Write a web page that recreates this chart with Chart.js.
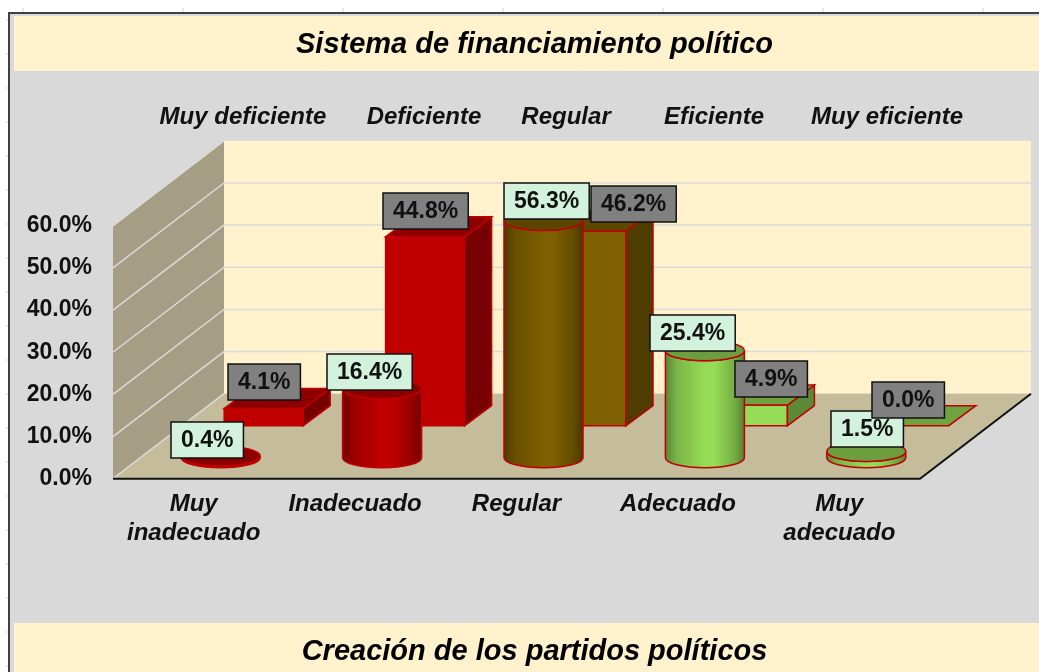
<!DOCTYPE html>
<html>
<head>
<meta charset="utf-8">
<style>html,body{margin:0;padding:0;background:#fff}canvas{display:block}</style>
<script src="https://cdn.jsdelivr.net/npm/chart.js@4/dist/chart.umd.min.js"></script>
</head>
<body>
<canvas id="c" width="1039" height="672"></canvas>
<script>
const titleText = 'Sistema de financiamiento político';
const subtitleText = 'Creación de los partidos políticos';
const frontLabels = [['Muy','inadecuado'],'Inadecuado','Regular','Adecuado',['Muy','adecuado']];
const backLabels = ['Muy deficiente','Deficiente','Regular','Eficiente','Muy eficiente'];
const frontValues = [0.4,16.4,56.3,25.4,1.5];
const backValues = [4.1,44.8,46.2,4.9,0.0];
const barColors = ['#C00000','#C00000','#7F6000','#96DC56','#96DC56'];

// Label placement relative to each bar top (styling only)
const frontNudge = [[-13,-16],[-12,-17],[3,-19],[-12,-18],[1,-22]];
const backNudge = [[1,-26],[1,-26],[47,-27],[23,-26],[-1,-26]];
const topLabelSlots = [0.805,1.927,2.807,3.724,4.796];

const DEPTH = {dx:111, dy:-85};
const FRONT = {dx:27, dy:-21, ry:10};
const BACK = {dx:70, dy:-53, sx:27, sy:-20};
const EDGE = '#C00000';
const FONT = 'Liberation Sans, Arial, sans-serif';

function shade(hex,f){
  const n=parseInt(hex.slice(1),16);
  const c=[n>>16&255,n>>8&255,n&255].map(v=>Math.round(v*f));
  return `rgb(${c[0]},${c[1]},${c[2]})`;
}
function poly(ctx,pts,fill,stroke){
  ctx.beginPath();
  pts.forEach((p,i)=>i?ctx.lineTo(p[0],p[1]):ctx.moveTo(p[0],p[1]));
  ctx.closePath();
  if(fill){ctx.fillStyle=fill;ctx.fill();}
  if(stroke){ctx.strokeStyle=stroke;ctx.lineWidth=1.5;ctx.stroke();}
}
function drawBox(ctx,el,color){
  const p=el.getProps(['x','y','base','width'],true);
  const l=p.x+BACK.dx-p.width/2, r=l+p.width, t=p.y+BACK.dy, b=p.base+BACK.dy;
  const sx=BACK.sx, sy=BACK.sy;
  if(b-t>0.5){
    poly(ctx,[[l,t],[r,t],[r,b],[l,b]],color,EDGE);
    poly(ctx,[[r,t],[r+sx,t+sy],[r+sx,b+sy],[r,b]],shade(color,.62),EDGE);
  }
  poly(ctx,[[l,t],[r,t],[r+sx,t+sy],[l+sx,t+sy]],shade(color,.74),EDGE);
}
function drawCylinder(ctx,el,color){
  const p=el.getProps(['x','y','base','width'],true);
  const cx=p.x+FRONT.dx, t=p.y+FRONT.dy, b=p.base+FRONT.dy, rx=p.width/2, ry=FRONT.ry;
  const g=ctx.createLinearGradient(cx-rx,0,cx+rx,0);
  g.addColorStop(0,shade(color,.6));
  g.addColorStop(.14,shade(color,.82));
  g.addColorStop(.5,shade(color,1));
  g.addColorStop(.62,shade(color,1));
  g.addColorStop(.88,shade(color,.78));
  g.addColorStop(1,shade(color,.58));
  ctx.beginPath();
  ctx.moveTo(cx-rx,t);
  ctx.lineTo(cx-rx,b);
  ctx.ellipse(cx,b,rx,ry,0,Math.PI,0,true);
  ctx.lineTo(cx+rx,t);
  ctx.ellipse(cx,t,rx,ry,0,0,Math.PI,false);
  ctx.closePath();
  ctx.fillStyle=g;ctx.fill();
  ctx.strokeStyle=EDGE;ctx.lineWidth=1.5;ctx.stroke();
  ctx.beginPath();
  ctx.ellipse(cx,t,rx,ry,0,0,Math.PI*2);
  ctx.fillStyle=shade(color,.72);ctx.fill();
  ctx.strokeStyle=EDGE;ctx.lineWidth=1.5;ctx.stroke();
}
function drawTag(ctx,cx,cy,text,bg){
  ctx.font='bold 23px '+FONT;
  const w=ctx.measureText(text).width+20, h=36;
  const x=Math.round(cx-w/2), y=Math.round(cy-h/2);
  ctx.fillStyle=bg;ctx.fillRect(x,y,w,h);
  ctx.strokeStyle='#111';ctx.lineWidth=1.5;ctx.strokeRect(x,y,w,h);
  ctx.fillStyle='#111';ctx.textAlign='center';ctx.textBaseline='middle';
  ctx.fillText(text,x+w/2,y+h/2+1);
}

const scene={
  id:'scene',
  beforeDraw(chart){
    const ctx=chart.ctx;
    ctx.save();
    ctx.fillStyle='#fff';ctx.fillRect(0,0,1039,672);
    ctx.strokeStyle='#d4d4d4';ctx.lineWidth=1;
    for(let x=23;x<1039;x+=160){ctx.beginPath();ctx.moveTo(x,8);ctx.lineTo(x,12);ctx.stroke();}
    for(let y=20;y<672;y+=34){ctx.beginPath();ctx.moveTo(6,y);ctx.lineTo(8,y);ctx.stroke();}
    ctx.fillStyle='#D9D9D9';ctx.fillRect(9,13,1030,659);
    ctx.fillStyle='#404040';ctx.fillRect(8,12,1031,2);ctx.fillRect(8,12,2,660);
    ctx.fillStyle='#FFF2CC';ctx.fillRect(14,16,1025,55);ctx.fillRect(14,623,1025,49);
    ctx.restore();
  },
  beforeDatasetsDraw(chart){
    const ctx=chart.ctx, a=chart.chartArea, y=chart.scales.y, d=DEPTH;
    ctx.save();
    const bw=a.bottom+d.dy, tw=a.top+d.dy;
    poly(ctx,[[a.left+d.dx,tw],[a.right+d.dx,tw],[a.right+d.dx,bw],[a.left+d.dx,bw]],'#FFF2CC');
    poly(ctx,[[a.left,a.top],[a.left+d.dx,tw],[a.left+d.dx,bw],[a.left,a.bottom]],'#A59D84');
    poly(ctx,[[a.left,a.bottom],[a.left+d.dx,bw],[a.right+d.dx,bw],[a.right,a.bottom]],'#C4BC9A');
    ctx.strokeStyle='#DADADA';ctx.lineWidth=1.5;
    y.ticks.forEach(t=>{
      const py=y.getPixelForValue(t.value);
      ctx.beginPath();
      ctx.moveTo(a.left,py);
      ctx.lineTo(a.left+d.dx,py+d.dy);
      if(t.value>0 && t.value<60){ctx.lineTo(a.right+d.dx,py+d.dy);}
      ctx.stroke();
    });
    ctx.strokeStyle='#111';ctx.lineWidth=2;
    ctx.beginPath();
    ctx.moveTo(a.left,a.bottom);ctx.lineTo(a.right,a.bottom);ctx.lineTo(a.right+d.dx,bw);
    ctx.stroke();
    ctx.restore();
  },
  beforeDatasetDraw(chart,args){
    const ctx=chart.ctx, ds=chart.data.datasets[args.index];
    ctx.save();
    args.meta.data.forEach((el,i)=>{
      const color=ds.backgroundColor[i];
      if(ds.shape==='cylinder') drawCylinder(ctx,el,color); else drawBox(ctx,el,color);
    });
    ctx.restore();
    return false;
  },
  afterDatasetsDraw(chart){
    const ctx=chart.ctx;
    ctx.save();
    chart.getDatasetMeta(0).data.forEach((el,i)=>{
      const p=el.getProps(['x','y'],true);
      drawTag(ctx,p.x+FRONT.dx+frontNudge[i][0],p.y+FRONT.dy+frontNudge[i][1],frontValues[i].toFixed(1)+'%','#D3F2DE');
    });
    chart.getDatasetMeta(1).data.forEach((el,i)=>{
      const p=el.getProps(['x','y'],true);
      drawTag(ctx,p.x+BACK.dx+backNudge[i][0],p.y+BACK.dy+backNudge[i][1],backValues[i].toFixed(1)+'%','#808080');
    });
    ctx.restore();
  }
};

const axisFont={family:FONT,size:24,weight:'bold',style:'italic',lineHeight:1.2};
new Chart(document.getElementById('c'),{
  type:'bar',
  plugins:[scene],
  data:{
    labels:frontLabels,
    datasets:[
      {label:'Creación de los partidos políticos',shape:'cylinder',data:frontValues,backgroundColor:barColors,borderColor:EDGE},
      {label:'Sistema de financiamiento político',shape:'box',data:backValues,backgroundColor:barColors,borderColor:EDGE}
    ]
  },
  options:{
    responsive:false,
    animation:false,
    grouped:false,
    categoryPercentage:1,
    barPercentage:0.4895,
    layout:{autoPadding:false,padding:{top:16,right:-10,bottom:0,left:20}},
    plugins:{
      legend:{display:false},
      tooltip:{enabled:false},
      title:{display:true,text:titleText,color:'#000',font:{family:FONT,size:29,weight:'bold',style:'italic',lineHeight:1.2},padding:{top:12,bottom:7}},
      subtitle:{display:true,position:'bottom',text:subtitleText,color:'#000',font:{family:FONT,size:29,weight:'bold',style:'italic',lineHeight:1.2},padding:{top:10,bottom:2.5}}
    },
    scales:{
      x:{
        position:'bottom',
        offset:true,
        grid:{display:false,drawTicks:false},
        border:{display:false},
        ticks:{color:'#111',font:axisFont,padding:11,maxRotation:0,autoSkip:false},
        afterFit(s){s.height=146;s.paddingLeft=0;s.paddingRight=0;}
      },
      xTop:{
        type:'linear',
        position:'top',
        offset:false,
        min:0,max:5,
        grid:{display:false,drawTicks:false},
        border:{display:false},
        afterBuildTicks(s){s.ticks=topLabelSlots.map(v=>({value:v}));},
        ticks:{color:'#111',font:axisFont,padding:94,maxRotation:0,autoSkip:false,callback:(v,i)=>backLabels[i]},
        afterFit(s){s.height=156;s.paddingLeft=0;s.paddingRight=0;}
      },
      y:{
        position:'left',
        min:0,max:60,
        grid:{display:false,drawTicks:false},
        border:{display:false},
        ticks:{stepSize:10,color:'#111',font:{family:FONT,size:23,weight:'bold'},padding:21,callback:v=>v.toFixed(1)+'%'},
        afterFit(s){s.width=93;}
      },
      ySpacer:{
        position:'right',
        min:0,max:60,
        grid:{display:false,drawTicks:false},
        border:{display:false},
        ticks:{display:false},
        afterFit(s){s.width=129;}
      }
    }
  }
});
</script>
</body>
</html>
